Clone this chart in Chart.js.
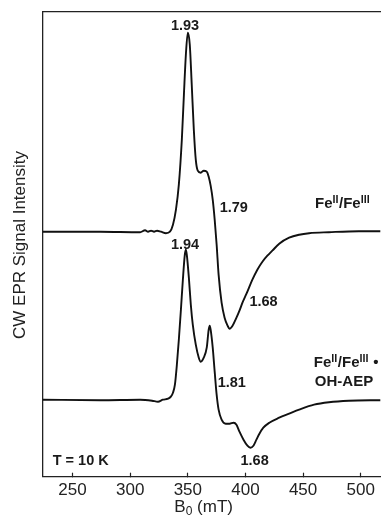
<!DOCTYPE html>
<html><head><meta charset="utf-8">
<script src="https://cdn.jsdelivr.net/npm/chart.js@4.4.1/dist/chart.umd.min.js"></script>
<style>html,body{margin:0;padding:0;background:#fff;}#wrap{width:382px;height:518px;position:relative;}</style>
</head><body><div id="wrap"><canvas id="c"></canvas></div>
<script>
// Magnetic field (mT) and signal (arbitrary units, offset traces)
const fieldTop = [224.1,274.1,308.6,312.9,315.5,318.1,320.7,323.3,326.7,331.0,334.5,337.1,339.7,342.2,344.8,346.6,348.3,350.0,351.7,353.4,355.2,356.9,358.6,361.2,363.8,366.4,368.1,369.8,371.6,373.3,375.0,376.7,379.3,381.9,384.5,386.2,388.8,392.2,394.8,397.4,400.9,406.0,410.3,414.7,419.0,423.3,429.3,437.9,446.6,455.2,472.4,498.3,517.2];
const signalTop = [245,245,244.5,246.5,245,246,245,246,245,243.5,245,252,267,292,337,382,422,444,432,392,347,317,306,304,306,305,300,291,277,257,232,202,174,159,151,148,151,159,166,174,183,197,207,215,221,226,233,239,242,243.5,244.5,245.5,245.5];
const fieldBottom = [224.1,274.1,308.6,319.0,324.1,328.4,332.8,335.3,337.1,338.8,340.5,342.2,344.0,345.7,347.4,348.3,349.1,350.9,352.6,354.3,356.9,359.5,361.2,363.8,366.4,368.1,369.0,369.8,371.6,373.3,375.0,376.7,379.3,382.8,386.2,389.7,392.2,394.8,398.3,401.7,404.3,406.9,409.5,412.1,415.5,420.7,429.3,437.9,446.6,459.5,472.4,489.7,517.2];
const signalBottom = [77,76.5,77,76,75,77,78,80,84,92,112,137,167,197,222,227,222,199,172,152,132,119,115,119,129,147,151,147,129,105,82,67,57,53,53,54,52,45,37,31,29,31,37,43,49,54,59,63,67,72,74.5,76,76.5];
const xTicks = [250,300,350,400,450,500];
const xRange = [224.1, 517.2];
const yRange = [0, 465];

// Text labels: [parts, field, signal, fontSize]; parts: [text, isSuperscript]
const labels = [
  [[["1.93",0]], 335.3, 446.7, 14.5],
  [[["1.79",0]], 377.6, 264.7, 14.5],
  [[["Fe",0],["II",1],["/Fe",0],["III",1]], 460.3, 268.7, 15],
  [[["1.94",0]], 335.3, 227.7, 14.5],
  [[["1.68",0]], 403.4, 170.7, 14.5],
  [[["Fe",0],["II",1],["/Fe",0],["III",1],[" \u2022",0]], 459.3, 109.7, 15],
  [[["OH-AEP",0]], 460.2, 90.7, 15],
  [[["1.81",0]], 375.9, 89.7, 14.5],
  [[["T = 10 K",0]], 232.8, 11.7, 14.5],
  [[["1.68",0]], 395.7, 11.7, 14.5]
];

const FONT = '"Liberation Sans", Arial, sans-serif';
const textPlugin = {
  id: 'texts',
  afterDraw(chart) {
    const ctx = chart.ctx, xs = chart.scales.x, ys = chart.scales.y;
    ctx.save();
    ctx.fillStyle = '#1a1a1a';
    ctx.textBaseline = 'alphabetic';
    ctx.textAlign = 'left';
    for (const [parts, fx, fy, fs] of labels) {
      let x = xs.getPixelForValue(fx), y = ys.getPixelForValue(fy);
      for (const [t, sup] of parts) {
        ctx.font = 'bold ' + (sup ? fs * 0.72 : fs) + 'px ' + FONT;
        ctx.fillText(t, x, sup ? y - fs * 0.33 : y);
        x += ctx.measureText(t).width + (sup ? 0.5 : 0);
      }
    }
    // x axis title with subscript
    ctx.fillStyle = '#222';
    const cx = (xs.left + xs.right) / 2 - 8;
    const parts = [["B",17,0],["0",12,3],[" (mT)",17,0]];
    let w = 0;
    for (const p of parts) { ctx.font = p[1] + 'px ' + FONT; w += ctx.measureText(p[0]).width; }
    let x = cx - w / 2;
    for (const p of parts) { ctx.font = p[1] + 'px ' + FONT; ctx.fillText(p[0], x, 512 + p[2]); x += ctx.measureText(p[0]).width; }
    // y axis title
    ctx.translate(20, 245);
    ctx.rotate(-Math.PI / 2);
    ctx.textAlign = 'center';
    ctx.textBaseline = 'middle';
    ctx.font = '17px ' + FONT;
    ctx.fillText('CW EPR Signal Intensity', 0, 0);
    ctx.restore();
  }
};

const mk = (fx, sy) => fx.map((f, i) => ({x: f, y: sy[i]}));
new Chart(document.getElementById('c'), {
  type: 'line',
  data: { datasets: [
    { data: mk(fieldTop, signalTop), borderColor: '#111', borderWidth: 1.9, pointRadius: 0, cubicInterpolationMode: 'monotone', fill: false },
    { data: mk(fieldBottom, signalBottom), borderColor: '#111', borderWidth: 1.9, pointRadius: 0, cubicInterpolationMode: 'monotone', fill: false }
  ]},
  options: {
    responsive: true, maintainAspectRatio: false, animation: false, devicePixelRatio: 1,
    layout: { padding: 0 },
    plugins: { legend: { display: false }, tooltip: { enabled: false } },
    scales: {
      x: {
        type: 'linear', position: 'bottom', min: xRange[0], max: xRange[1],
        afterBuildTicks: s => { s.ticks = xTicks.map(v => ({value: v})); },
        afterFit: s => { s.height = 41.3; },
        grid: { display: true, drawOnChartArea: false, drawTicks: true, tickLength: -4, color: '#222', tickWidth: 1.2 },
        border: { display: true, color: '#222', width: 1.3 },
        ticks: { font: { family: FONT, size: 17 }, color: '#222', padding: 7, maxRotation: 0, autoSkip: false }
      },
      xTop: {
        type: 'linear', position: 'top', min: xRange[0], max: xRange[1],
        afterFit: s => { s.height = 11.7; },
        grid: { display: false }, ticks: { display: false },
        border: { display: true, color: '#222', width: 1.3 }
      },
      y: {
        type: 'linear', position: 'left', min: yRange[0], max: yRange[1],
        afterFit: s => { s.width = 42.7; },
        grid: { display: false }, ticks: { display: false },
        border: { display: true, color: '#222', width: 1.3 }
      }
    }
  },
  plugins: [textPlugin]
});
</script></body></html>
